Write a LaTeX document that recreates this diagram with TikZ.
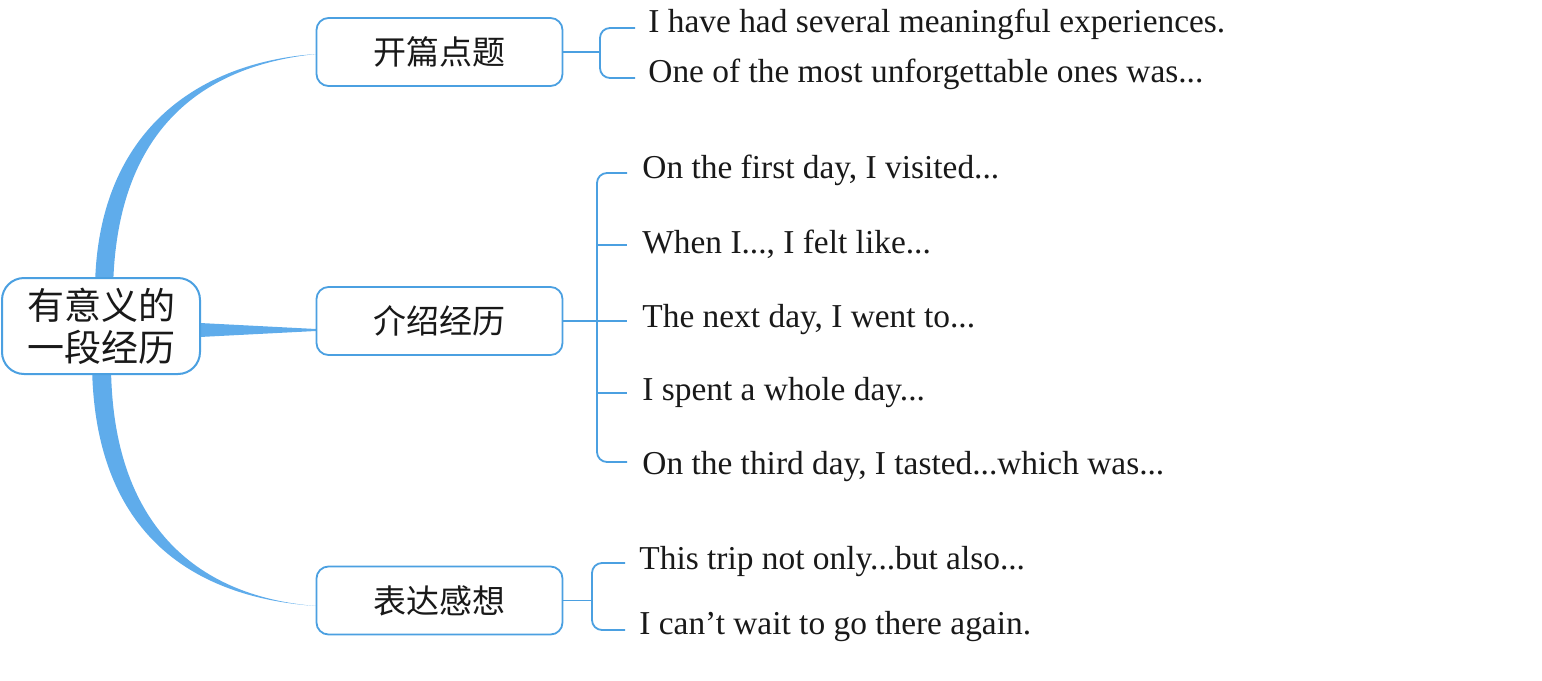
\documentclass[tikz,border=0pt]{standalone}
\usepackage{fontspec}
\setmainfont{Liberation Serif}
\newfontfamily\cjk{Noto Sans CJK SC}
\definecolor{thick}{RGB}{95,172,235}
\definecolor{edge}{RGB}{75,160,225}
\definecolor{ink}{RGB}{25,25,25}
\begin{document}
\begin{tikzpicture}[x=0.5pt,y=-0.5pt,
  hub/.style={draw=edge,line width=1pt,fill=white,rounded corners=11pt,minimum width=99pt,minimum height=48pt,inner sep=0pt,align=center,font=\cjk\fontsize{18.5pt}{21pt}\selectfont,text=ink},
  topic/.style={draw=edge,line width=0.9pt,fill=white,rounded corners=6pt,minimum width=123pt,minimum height=34pt,inner sep=0pt,font=\cjk\fontsize{16.5pt}{19pt}\selectfont,text=ink},
  item/.style={anchor=west,inner xsep=6.5pt,inner ysep=0pt,font=\fontsize{16.7pt}{19pt}\selectfont,text=ink},
  br/.style={draw=edge,line width=0.9pt,rounded corners=5pt},
  taper/.style={fill=thick,draw=none}]
\useasboundingbox (0,0) rectangle (1542,680);
% tapered branches
\fill[taper] (95,300) .. controls (92,130) and (200,62) .. (316,54) .. controls (202,66) and (112,130) .. (113,300) -- cycle;
\fill[taper] (200,323) -- (316,329) -- (316,331) -- (200,337) -- cycle;
\fill[taper] (92,360) .. controls (92,540) and (200,598) .. (316,606) .. controls (202,597) and (110,530) .. (111,360) -- cycle;
% nodes
\node[hub] (hub) at (101,326) {有意义的\\一段经历};
\node[topic] (b1) at (439.5,52) {开篇点题};
\node[topic] (b2) at (439.5,321) {介绍经历};
\node[topic] (b3) at (439.5,600.5) {表达感想};
% bracket ends
\coordinate (e1a) at (635,28);
\coordinate (e1b) at (635,78);
\coordinate (e2a) at (627,173);
\coordinate (e2b) at (627,245);
\coordinate (e2c) at (627,321);
\coordinate (e2d) at (627,393);
\coordinate (e2e) at (627,462);
\coordinate (e3a) at (625,563);
\coordinate (e3b) at (625,630);
% items
\node[item] (t1a) at (635,24) {I have had several meaningful experiences.};
\node[item] (t1b) at (635,74) {One of the most unforgettable ones was...};
\node[item] (t2a) at (629,170) {On the first day, I visited...};
\node[item] (t2b) at (629,244) {When I..., I felt like...};
\node[item] (t2c) at (629,320) {The next day, I went to...};
\node[item] (t2d) at (629,393) {I spent a whole day...};
\node[item] (t2e) at (629,467) {On the third day, I tasted...which was...};
\node[item] (t3a) at (626,562) {This trip not only...but also...};
\node[item] (t3b) at (626,627) {I can’t wait to go there again.};
% junctions
\coordinate (j1) at (600,52);
\coordinate (j2) at (597,321);
\coordinate (j3) at (592,600.5);
% brackets
\draw[br] (b1.east) -- (j1);
\draw[br] (e1a) -| (j1) |- (e1b);
\draw[br] (b2.east) -- (e2c);
\draw[br] (e2a) -| (j2) |- (e2e);
\draw[br] (j2 |- e2b) -- (e2b);
\draw[br] (j2 |- e2d) -- (e2d);
\draw[br] (e3a) -| (j3) |- (e3b);
\draw[br] (b3.east) -- (j3);
\end{tikzpicture}
\end{document}
